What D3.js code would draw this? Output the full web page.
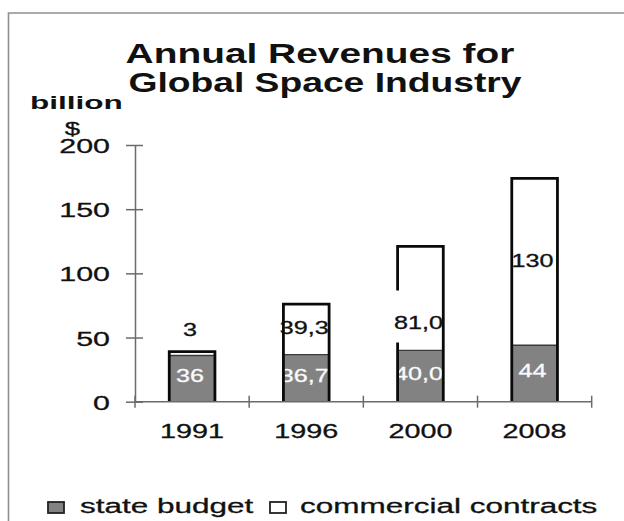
<!DOCTYPE html>
<html>
<head>
<meta charset="utf-8">
<script src="https://cdn.jsdelivr.net/npm/d3@7"></script>
<style>
  html, body { margin: 0; padding: 0; background: #fff; }
  svg { display: block; font-family: "Liberation Sans", Arial, sans-serif; }
  text { stroke-width: 0.3; paint-order: stroke; }
</style>
</head>
<body>
<script>
// ---- data ----
const years = ["1991", "1996", "2000", "2008"];
const stateBudget = [36, 36.7, 40.0, 44];
const commercialContracts = [3, 39.3, 81.0, 130];
const stateLabels = ["36", "36,7", "40,0", "44"];
const commercialLabels = ["3", "39,3", "81,0", "130"];
const yTickValues = [0, 50, 100, 150, 200];
const seriesNames = ["state budget", "commercial contracts"];
const titleLines = ["Annual Revenues for", "Global Space Industry"];
const unitLines = ["billion", "$"];

// ---- layout ----
const W = 624, H = 521;
const ink = "#111";
const axisColor = "#6b6b6b";
const fills = { state: "#828282", commercial: "#ffffff" };

const svg = d3.select("body").append("svg").attr("width", W).attr("height", H);
svg.append("rect").attr("width", W).attr("height", H).attr("fill", "#fff");

// outer chart-area frame (continues past the right and bottom edges)
svg.append("path")
  .attr("d", "M8.5,540 V13 H640")
  .attr("fill", "none").attr("stroke", "#8e8e8e").attr("stroke-width", 1.6);

const x = d3.scaleBand().domain(years).range([135, 591.7]).paddingInner(0.6).paddingOuter(0.3);
const y = d3.scaleLinear().domain([0, 200]).range([401.7, 145]);
const bw = x.bandwidth();

const rows = years.map((yr, i) => ({ year: yr, state: stateBudget[i], commercial: commercialContracts[i] }));
const stacked = d3.stack().keys(["state", "commercial"])(rows);

// ---- title ----
const title = svg.append("g").attr("font-weight", "bold").attr("font-size", 27).attr("fill", ink)
  .attr("text-anchor", "middle");
title.append("text").text(titleLines[0]).attr("transform", "translate(320,63.3) scale(1.44,1)");
title.append("text").text(titleLines[1]).attr("transform", "translate(325,91.7) scale(1.38,1)");

// ---- unit label ----
svg.append("text").text(unitLines[0]).attr("font-weight", "bold").attr("font-size", 19).attr("fill", ink)
  .attr("transform", "translate(30,108.5) scale(1.66,1)");
svg.append("text").text(unitLines[1]).attr("font-size", 19).attr("fill", ink).attr("stroke", ink)
  .attr("text-anchor", "middle")
  .attr("transform", "translate(72.5,134.5) scale(1.45,1)");

// ---- bar fills ----
const layers = svg.append("g").selectAll("g").data(stacked).join("g")
  .attr("fill", d => fills[d.key]);
layers.selectAll("rect").data(d => d).join("rect")
  .attr("x", d => x(d.data.year))
  .attr("y", d => y(d[1]))
  .attr("width", bw)
  .attr("height", d => y(d[0]) - y(d[1]));

// boundary between the two segments
svg.append("g").selectAll("line").data(rows).join("line")
  .attr("x1", d => x(d.year)).attr("x2", d => x(d.year) + bw)
  .attr("y1", d => y(d.state)).attr("y2", d => y(d.state))
  .attr("stroke", "#3a3a3a").attr("stroke-width", 1.3);

// ---- value labels (drawn under the outlines) ----
const labelShift = { "1991": -22, "2000": 25.6 };   // hand-placed commercial labels
const labelX = d => x(d.data.year) + bw / 2 - 2;

const stateG = svg.append("g").attr("font-size", 18).attr("fill", "#fafafa").attr("stroke", "#fafafa")
  .attr("text-anchor", "middle");
stateG.selectAll("text").data(stacked[0]).join("text")
  .text((d, i) => stateLabels[i])
  .attr("dy", "0.35em")
  .attr("transform", d => `translate(${labelX(d)},${y((d[0] + d[1]) / 2) - 2.5}) scale(1.4,1)`);

const commG = svg.append("g").attr("font-size", 18).attr("fill", ink).attr("stroke", ink)
  .attr("text-anchor", "middle");
const commY = d => y((d[0] + d[1]) / 2) - 1.5 + (labelShift[d.data.year] || 0);
commG.selectAll("text").data(stacked[1]).join("text")
  .text((d, i) => commercialLabels[i])
  .attr("dy", "0.35em")
  .attr("transform", d => `translate(${labelX(d)},${commY(d)}) scale(1.4,1)`);

// ---- bar outlines (left, top, right); the 2000 bar leaves room for its label ----
const gapYears = new Set(["2000"]);
svg.append("g").selectAll("path").data(stacked[1]).join("path")
  .attr("d", d => {
    const x0 = x(d.data.year), x1 = x0 + bw, y0 = y(0), yt = y(d[1]);
    if (gapYears.has(d.data.year)) {
      const c = commY(d);
      return `M${x0},${y0} V${c + 20} M${x0},${c - 32} V${yt} H${x1} V${y0}`;
    }
    return `M${x0},${y0} V${yt} H${x1} V${y0}`;
  })
  .attr("fill", "none").attr("stroke", "#0a0a0a").attr("stroke-width", 2.8);

// ---- y axis ----
const gy = svg.append("g").attr("transform", "translate(135,0)")
  .call(d3.axisLeft(y).tickValues(yTickValues).tickSizeOuter(0));
gy.attr("font-family", null).attr("font-size", null);
gy.select(".domain").attr("stroke", axisColor).attr("stroke-width", 1.5);
gy.selectAll(".tick line").attr("x1", 8).attr("x2", -9).attr("stroke", axisColor).attr("stroke-width", 1.5);
gy.selectAll(".tick text")
  .attr("x", 0).attr("dy", "0.36em").attr("text-anchor", "end")
  .attr("font-size", 21).attr("fill", ink).attr("stroke", ink)
  .attr("transform", "translate(-25,0) scale(1.45,1)");

// ---- x axis: line, boundary ticks, category labels ----
const gx = svg.append("g");
const [r0, r1] = x.range();
gx.append("line").attr("x1", r0).attr("x2", r1).attr("y1", y(0)).attr("y2", y(0))
  .attr("stroke", axisColor).attr("stroke-width", 1.5);
gx.selectAll("line.tick").data(d3.range(years.length + 1)).join("line")
  .attr("class", "tick")
  .attr("x1", i => r0 + i * x.step()).attr("x2", i => r0 + i * x.step())
  .attr("y1", y(0) - 6).attr("y2", y(0) + 6)
  .attr("stroke", axisColor).attr("stroke-width", 1.5);
gx.selectAll("text").data(years).join("text")
  .text(d => d)
  .attr("text-anchor", "middle").attr("font-size", 20).attr("fill", ink).attr("stroke", ink)
  .attr("transform", d => `translate(${x(d) + bw / 2},438.3) scale(1.44,1)`);

// ---- legend ----
const legendItems = [
  { name: seriesNames[0], key: "state", box: 48, text: 80 },
  { name: seriesNames[1], key: "commercial", box: 270, text: 300 }
];
const lg = svg.append("g");
lg.selectAll("rect").data(legendItems).join("rect")
  .attr("x", d => d.box).attr("y", 502).attr("width", 16).attr("height", 11)
  .attr("fill", d => fills[d.key]).attr("stroke", "#222").attr("stroke-width", 1.8);
lg.selectAll("text").data(legendItems).join("text")
  .text(d => d.name)
  .attr("font-size", 21).attr("fill", ink).attr("stroke", ink)
  .attr("transform", d => `translate(${d.text},513.3) scale(1.5,1)`);
</script>
</body>
</html>
